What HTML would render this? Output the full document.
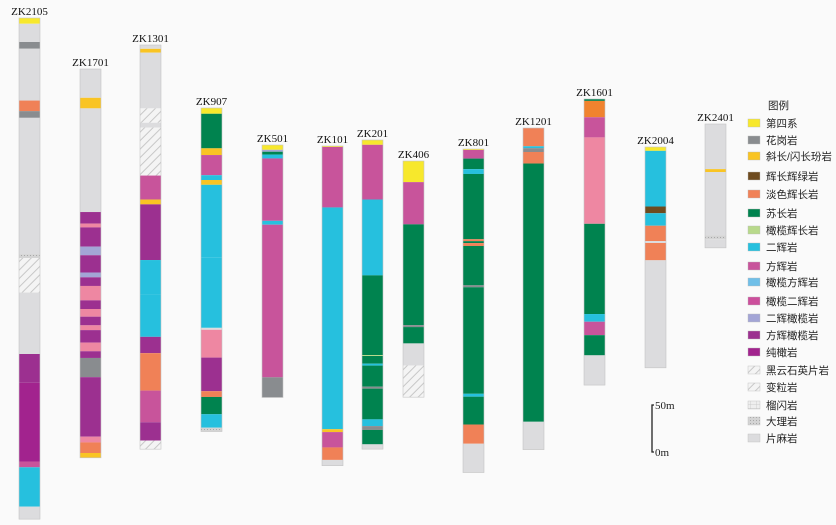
<!DOCTYPE html>
<html><head><meta charset="utf-8"><style>
html,body{margin:0;padding:0;background:#fafafa;}
svg{display:block;}
text{font-family:"Liberation Serif","Noto Serif CJK SC",serif;}
.lg{font-family:"Liberation Sans","Noto Sans CJK SC",sans-serif;font-size:10.5px;fill:#222;}
</style></head><body>
<svg id="chart" width="836" height="525" viewBox="0 0 836 525" xmlns="http://www.w3.org/2000/svg">
<defs>
<pattern id="hatch" patternUnits="userSpaceOnUse" width="6" height="6" patternTransform="rotate(45)">
<rect width="6" height="6" fill="#f4f4f4"/><line x1="0" y1="0" x2="0" y2="6" stroke="#c8c8c8" stroke-width="2"/></pattern>
<pattern id="dots" patternUnits="userSpaceOnUse" width="3" height="3">
<rect width="3" height="3" fill="#d4d4d4"/><rect width="1" height="1" fill="#a8a8a8"/></pattern>
<pattern id="grid" patternUnits="userSpaceOnUse" width="6" height="4">
<rect width="6" height="4" fill="#eeeeee"/><line x1="0" y1="0" x2="6" y2="0" stroke="#bbb" stroke-width="0.6"/><line x1="0" y1="0" x2="0" y2="4" stroke="#bbb" stroke-width="0.6"/></pattern>
</defs>
<g id="cols"></g>
<g id="legend"></g>
<g>
<path d="M654,405 H652 V452 H654" fill="none" stroke="#222" stroke-width="1.3"/>
<text x="655" y="409" font-size="11" fill="#222">50m</text>
<text x="655" y="456" font-size="11" fill="#222">0m</text>
</g>
</svg>
<script>
// Borehole data: names, layer lithology codes and layer base depths (m below collar)
const holeNames = ["ZK2105","ZK1701","ZK1301","ZK907","ZK501","ZK101","ZK201","ZK406","ZK801","ZK1201","ZK1601","ZK2004","ZK2401"];
const codesZK2105 = ["Q","GN","GR","GN","LG","GR","GN","MB","GT","GN","HZ","DU","OP","PX","GN"];
const baseZK2105  = [6,25,32,86,97,104,246,250,286,350,380,462,468,509,522];
const codesZK1701 = ["GN","PP","GN","HZ","OW","HZ","LZ","HZ","LZ","HZ","OW","HZ","OW","HZ","OW","HZ","OW","HZ","GR","HZ","OW","LG","PP"];
const baseZK1701  = [30,41,149,161,165,185,194,212,217,226,241,250,258,267,272,285,294,301,321,383,389,400,405];
const codesZK1301 = ["GN","PP","GN","SC","GN","SC","SC","OP","PP","HZ","PX","PX","HZ","LG","OP","HZ","SC"];
const baseZK1301  = [4,8,66,81,86,126,136,161,166,224,260,304,321,360,393,412,421];
const codesZK907  = ["Q","NO","PP","OP","PX","PP","PX","PX","GN","OW","HZ","LG","NO","PX","MB"];
const baseZK907   = [6,42,49,70,75,80,156,229,231,260,295,301,319,333,337];
const codesZK501  = ["Q","LZ","NO","PX","OP","PX","OP","GR"];
const baseZK501   = [5,7,10,14,79,83,242,263];
const codesZK101  = ["Q","OP","PX","PP","OP","LG","GN"];
const baseZK101   = [1,64,295,298,314,327,333];
const codesZK201  = ["Q","OP","PX","NO","OG","NO","PX","NO","GR","NO","PX","GR","NO","GN"];
const baseZK201   = [5,62,141,224,225,233,235,257,259,291,298,302,317,322];
const codesZK406  = ["Q","OP","NO","GR","NO","GN","SC"];
const baseZK406   = [22,66,171,173,190,213,246];
const codesZK801  = ["Q","OP","NO","PX","NO","LG","NO","LG","NO","GR","NO","PX","NO","LG","GN"];
const baseZK801   = [1,10,21,26,94,96,98,101,142,144,255,258,287,307,337];
const codesZK1201 = ["LG","PX","GR","LG","NO","GN"];
const baseZK1201  = [19,21,25,37,306,335];
const codesZK1601 = ["NO","LG2","OP","OW","NO","PX","OP","NO","GN"];
const baseZK1601  = [2,19,40,130,224,232,246,267,298];
const codesZK2004 = ["Q","PX","GD","PX","LG","GN","LG","GN"];
const baseZK2004  = [4,62,69,82,98,100,118,230];
const codesZK2401 = ["GN","PP","GN","MB","GN"];
const baseZK2401  = [47,50,116,120,129];

const allCodes = [codesZK2105,codesZK1701,codesZK1301,codesZK907,codesZK501,codesZK101,codesZK201,codesZK406,codesZK801,codesZK1201,codesZK1601,codesZK2004,codesZK2401];
const allBases = [baseZK2105,baseZK1701,baseZK1301,baseZK907,baseZK501,baseZK101,baseZK201,baseZK406,baseZK801,baseZK1201,baseZK1601,baseZK2004,baseZK2401];

// legend entries
const legendCodes = ["Q","GR","PP","GD","LG","NO","OG","PX","OP","OOP","OW2","LZ","HZ","DU","SC","GT","AM","MB","GN"];
const legendLabels = ["第四系","花岗岩","斜长/闪长玢岩","辉长辉绿岩","淡色辉长岩","苏长岩","橄榄辉长岩","二辉岩","方辉岩","橄榄方辉岩","橄榄二辉岩","二辉橄榄岩","方辉橄榄岩","纯橄岩","黑云石英片岩","变粒岩","榴闪岩","大理岩","片麻岩"];

// layout (not data)
const fill = {Q:"#f7e82c",GR:"#898c8f",PP:"#f9c423",GD:"#6e4b1f",LG:"#f08157",LG2:"#f0832f",NO:"#00834f",OG:"#b8d98b",PX:"#26c0de",OP:"#c8549b",OOP:"#70bfe8",OW:"#ee87a2",OW2:"#cc4f9c",LZ:"#a3a5d6",HZ:"#9c3090",DU:"#a2238e",SC:"url(#hatch)",GT:"url(#hatch)",AM:"url(#grid)",MB:"url(#dots)",GN:"#dcdcde"};
const colX = [19,80,140,201,262,322,362,403,463,523,584,645,705];
const colTop = [18,69,45,108,145,146,140,161,149,128,99,147,124];
const colW = 21;
const pxPerM = 0.96;
const yScale = (i, d) => colTop[i] + d * pxPerM;

const NS = "http://www.w3.org/2000/svg";
const cols = document.getElementById("cols");
holeNames.forEach((name, i) => {
  const g = document.createElementNS(NS, "g");
  
  
  const codes = allCodes[i], bases = allBases[i];
  let prev = 0;
  codes.forEach((c, k) => {
    const y0 = yScale(i, prev), y1 = yScale(i, bases[k]);
    const r = document.createElementNS(NS, "rect");
    
    
    r.setAttribute("x", colX[i]); r.setAttribute("y", y0);
    r.setAttribute("width", colW); r.setAttribute("height", Math.max(0.8, y1 - y0));
    r.setAttribute("fill", fill[c]);
    g.appendChild(r);
    prev = bases[k];
  });
  const b = document.createElementNS(NS, "rect");
  
  
  b.setAttribute("x", colX[i]); b.setAttribute("y", colTop[i]);
  b.setAttribute("width", colW); b.setAttribute("height", bases[bases.length-1] * pxPerM);
  b.setAttribute("fill", "none"); b.setAttribute("stroke", "#c4c4c4"); b.setAttribute("stroke-width", "0.6");
  g.appendChild(b);
  const t = document.createElementNS(NS, "text");
  
  
  t.setAttribute("x", colX[i] + colW / 2); t.setAttribute("y", colTop[i] - 3);
  t.setAttribute("text-anchor", "middle"); t.setAttribute("font-size", "11"); t.setAttribute("fill", "#111");
  t.textContent = name;
  g.appendChild(t);
  cols.appendChild(g);
});

const lg = document.getElementById("legend");
const title = document.createElementNS(NS, "text");


title.setAttribute("x", 768); title.setAttribute("y", 109); title.setAttribute("class", "lg");
title.textContent = "图例";
lg.appendChild(title);
const rowY = [123,140,156,176,194,213,230,247,266,282,301,318,335,352,370,387,405,421,438];
legendCodes.forEach((c, k) => {
  const g = document.createElementNS(NS, "g");
  
  
  const r = document.createElementNS(NS, "rect");
  r.setAttribute("x", 748); r.setAttribute("y", rowY[k] - 4);
  r.setAttribute("width", 12); r.setAttribute("height", 8);
  r.setAttribute("fill", fill[c]); r.setAttribute("stroke", "#bbb"); r.setAttribute("stroke-width", "0.4");
  g.appendChild(r);
  const t = document.createElementNS(NS, "text");
  t.setAttribute("x", 766); t.setAttribute("y", rowY[k] + 4); t.setAttribute("class", "lg");
  t.textContent = legendLabels[k];
  g.appendChild(t);
  lg.appendChild(g);
});
</script>
</body></html>
